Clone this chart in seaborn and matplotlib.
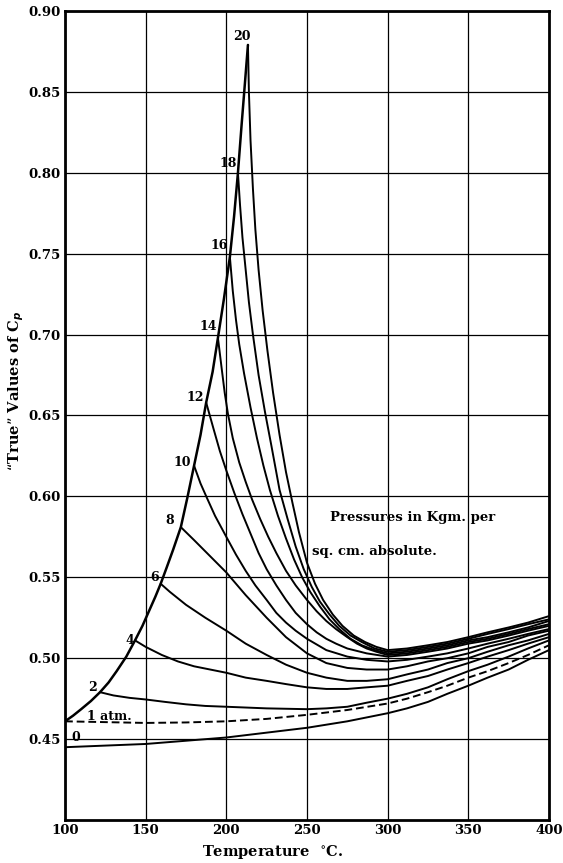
import numpy as np
import pandas as pd
import matplotlib
matplotlib.use("Agg")
import matplotlib.pyplot as plt
import seaborn as sns

# saturation line (upper left boundary), temperature / Cp
sat_t = [100, 105, 110, 116, 121.7, 127, 132, 138, 143.4, 148, 152, 156, 159.3, 163, 167, 171.8,
         175.8, 180, 184, 187.5, 191.5, 194.8, 198.5, 202.2, 204.8, 207.2, 209.5, 211.5, 213.4]
sat_cp = [0.461, 0.4645, 0.4685, 0.4735, 0.479, 0.485, 0.492, 0.501, 0.511, 0.520, 0.529, 0.538, 0.546, 0.556, 0.567, 0.581,
          0.599, 0.619, 0.638, 0.658, 0.677, 0.698, 0.722, 0.748, 0.773, 0.800, 0.830, 0.855, 0.879]

# curves for each pressure (kg per sq. cm absolute)
curves = {
    "0": ([100, 125, 150, 175, 200, 225, 250, 275, 300, 312, 325, 337, 350, 362, 375, 387, 400],
          [0.445, 0.446, 0.447, 0.449, 0.451, 0.454, 0.457, 0.461, 0.466, 0.469, 0.473, 0.478, 0.483, 0.488, 0.493, 0.499, 0.505]),
    "1": ([100, 125, 150, 175, 200, 225, 250, 275, 300, 312, 325, 337, 350, 362, 375, 387, 400],
          [0.461, 0.4605, 0.460, 0.4603, 0.461, 0.4625, 0.465, 0.468, 0.472, 0.475, 0.479, 0.483, 0.488, 0.492, 0.497, 0.502, 0.508]),
    "2": ([121.7, 130, 140, 150, 162, 175, 187, 200, 225, 250, 262, 275, 287, 300, 312, 325, 337, 350, 362, 375, 387, 400],
          [0.479, 0.477, 0.4755, 0.4745, 0.473, 0.4715, 0.4705, 0.470, 0.469, 0.4685, 0.469, 0.470, 0.4725, 0.475, 0.478, 0.482,
           0.487, 0.492, 0.496, 0.501, 0.506, 0.511]),
    "4": ([143.4, 150, 160, 170, 180, 190, 200, 212, 225, 237, 250, 262, 275, 287, 300, 312, 325, 337, 350, 362, 375, 387, 400],
          [0.511, 0.507, 0.502, 0.498, 0.495, 0.493, 0.491, 0.488, 0.486, 0.484, 0.482, 0.481, 0.481, 0.482, 0.483, 0.486, 0.489,
           0.493, 0.497, 0.501, 0.505, 0.509, 0.513]),
    "6": ([159.3, 165, 175, 187, 200, 212, 225, 237, 250, 262, 275, 287, 300, 312, 325, 337, 350, 362, 375, 387, 400],
          [0.546, 0.541, 0.533, 0.525, 0.517, 0.509, 0.502, 0.496, 0.491, 0.488, 0.486, 0.486, 0.487, 0.490, 0.493, 0.497, 0.500,
           0.504, 0.508, 0.511, 0.515]),
    "8": ([171.8, 180, 190, 200, 212, 225, 237, 250, 262, 275, 287, 300, 312, 325, 337, 350, 362, 375, 387, 400],
          [0.581, 0.573, 0.563, 0.553, 0.539, 0.525, 0.513, 0.503, 0.497, 0.494, 0.493, 0.493, 0.495, 0.498, 0.500, 0.503, 0.507,
           0.510, 0.514, 0.517]),
    "10": ([180, 184, 188, 193, 200, 206, 212, 218, 225, 231, 237, 243, 250, 262, 275, 287, 300, 312, 325, 337, 350, 362, 375, 387, 400],
           [0.619, 0.608, 0.599, 0.588, 0.575, 0.564, 0.554, 0.545, 0.536, 0.528, 0.522, 0.517, 0.512, 0.505, 0.501, 0.499, 0.498,
            0.499, 0.501, 0.503, 0.506, 0.509, 0.512, 0.515, 0.518]),
    "12": ([187.5, 192, 196, 200, 205, 210, 215, 220, 225, 231, 237, 243, 250, 256, 262, 268, 275, 287, 300, 312, 325, 337, 350,
            362, 375, 387, 400],
           [0.658, 0.642, 0.628, 0.616, 0.602, 0.589, 0.577, 0.565, 0.555, 0.545, 0.536, 0.528, 0.521, 0.516, 0.512, 0.509, 0.506,
            0.503, 0.501, 0.502, 0.504, 0.506, 0.509, 0.511, 0.514, 0.517, 0.520]),
    "14": ([194.8, 197, 199, 201, 204, 208, 212, 216, 221, 226, 231, 237, 243, 250, 256, 262, 268, 275, 281, 287, 293, 300, 312,
            325, 337, 350, 362, 375, 387, 400],
           [0.698, 0.680, 0.664, 0.651, 0.636, 0.621, 0.609, 0.598, 0.586, 0.575, 0.565, 0.554, 0.545, 0.536, 0.529, 0.523, 0.518,
            0.513, 0.509, 0.506, 0.504, 0.502, 0.503, 0.505, 0.507, 0.510, 0.512, 0.515, 0.518, 0.521]),
    "16": ([202.2, 204, 206, 208, 211, 215, 219, 223, 227, 232, 237, 242, 247, 252, 258, 264, 270, 277, 284, 292, 300, 312, 325,
            337, 350, 362, 375, 387, 400],
           [0.748, 0.727, 0.709, 0.694, 0.676, 0.655, 0.636, 0.619, 0.604, 0.588, 0.574, 0.561, 0.550, 0.541, 0.532, 0.524, 0.518,
            0.512, 0.508, 0.505, 0.503, 0.504, 0.506, 0.508, 0.511, 0.513, 0.516, 0.519, 0.523]),
    "18": ([207.2, 208.5, 210, 212, 214, 216.5, 220, 224, 228, 233, 238, 243, 248, 253, 258, 264, 270, 277, 284, 292, 300, 312,
            325, 337, 350, 362, 375, 387, 400],
           [0.800, 0.780, 0.760, 0.740, 0.720, 0.700, 0.675, 0.652, 0.631, 0.604, 0.586, 0.569, 0.555, 0.544, 0.535, 0.527, 0.520,
            0.514, 0.510, 0.506, 0.504, 0.505, 0.507, 0.509, 0.512, 0.515, 0.518, 0.521, 0.524]),
    "20": ([213.4, 214, 215, 216.5, 218, 220, 222.5, 225.5, 229, 233, 237, 241, 245, 250, 255, 260, 266, 272, 279, 286, 293, 300,
            312, 325, 337, 350, 362, 375, 387, 400],
           [0.879, 0.850, 0.820, 0.790, 0.765, 0.740, 0.715, 0.690, 0.664, 0.638, 0.615, 0.596, 0.578, 0.559, 0.546, 0.536, 0.527,
            0.520, 0.514, 0.510, 0.507, 0.505, 0.506, 0.508, 0.510, 0.513, 0.516, 0.519, 0.522, 0.526]),
}

# label text and where it sits (temperature, Cp)
labels = ["20", "18", "16", "14", "12", "10", "8", "6", "4", "2", "1 atm.", "0"]
label_t = [209.7, 201, 195.4, 189, 181, 172.5, 165, 155.8, 140.3, 117, 113.6, 106.8]
label_cp = [0.884, 0.806, 0.755, 0.705, 0.661, 0.621, 0.585, 0.550, 0.511, 0.482, 0.464, 0.451]

x_ticks = [100, 150, 200, 250, 300, 350, 400]
y_ticks = [0.45, 0.50, 0.55, 0.60, 0.65, 0.70, 0.75, 0.80, 0.85, 0.90]

sns.set_style("white")
plt.rcParams['font.family'] = ['DejaVu Serif']
plt.rcParams['font.weight'] = 'bold'
plt.rcParams['text.color'] = 'black'
plt.rcParams['axes.labelcolor'] = 'black'
plt.rcParams['xtick.color'] = 'black'
plt.rcParams['ytick.color'] = 'black'

fig = plt.figure(figsize=(5.63, 8.63), dpi=100)
ax = fig.add_axes([0.1155, 0.0498, 0.8595, 0.9375])

for name, (t, cp) in curves.items():
    df = pd.DataFrame({'t': t, 'cp': cp})
    style = (0, (4, 2)) if name == "1" else '-'
    sns.lineplot(x='t', y='cp', data=df, ax=ax, color='black', lw=1.4,
                 sort=False, estimator=None, linestyle=style)

sat = pd.DataFrame({'t': sat_t, 'cp': sat_cp})
sns.lineplot(x='t', y='cp', data=sat, ax=ax, color='black', lw=1.8, sort=False, estimator=None)

for txt, t, cp in zip(labels, label_t, label_cp):
    ha = 'left' if txt == "1 atm." else 'center'
    ax.text(t, cp, txt, fontsize=9, ha=ha, va='center', fontweight='bold', color='black')

ax.text(264, 0.587, "Pressures in Kgm. per", fontsize=9.5, ha='left', va='center', fontweight='bold', color='black')
ax.text(253, 0.566, "sq. cm. absolute.", fontsize=9.5, ha='left', va='center', fontweight='bold', color='black')

ax.set_xlim(100, 400)
ax.set_ylim(0.40, 0.90)
ax.set_xticks(x_ticks)
ax.set_xticklabels([str(v) for v in x_ticks], fontsize=9.5, fontweight='bold')
ax.set_yticks(y_ticks)
ax.set_yticklabels(["%.2f" % v for v in y_ticks], fontsize=9.5, fontweight='bold')
ax.grid(True, color='black', lw=0.9)
ax.tick_params(length=0, pad=3)
for s in ax.spines.values():
    s.set_color('black')
    s.set_linewidth(2)

ax.set_xlabel("Temperature  $^{\\circ}$C.", fontsize=10.5, fontweight='bold', labelpad=1)
ax.xaxis.set_label_coords(0.43, -0.028)
ax.set_ylabel("\u201cTrue\u201d Values of C$_p$", fontsize=10.5, fontweight='bold')
ax.yaxis.set_label_coords(-0.08, 0.53)

fig.savefig("out.png", dpi=100)
